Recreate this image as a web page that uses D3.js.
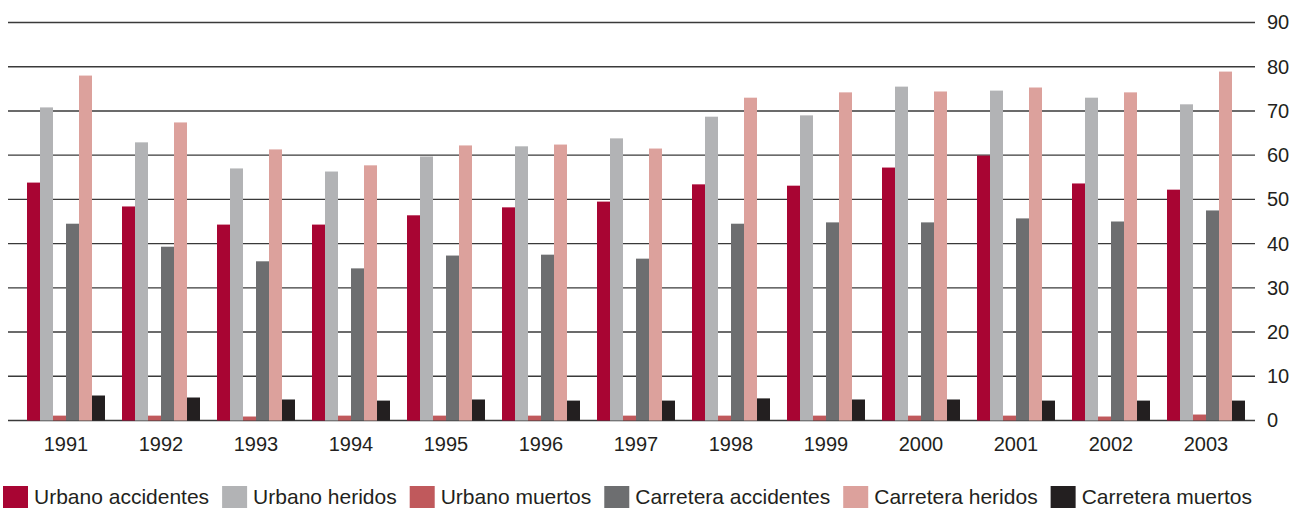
<!DOCTYPE html>
<html>
<head>
<meta charset="utf-8">
<script src="https://cdn.jsdelivr.net/npm/d3@7"></script>
<style>
  body { margin: 0; background: white; }
  svg { display: block; font-family: "Liberation Sans", Arial, sans-serif; }
</style>
</head>
<body>
<svg id="chart" width="1292" height="508"></svg>
<script>
const years = ["1991","1992","1993","1994","1995","1996","1997","1998","1999","2000","2001","2002","2003"];
const seriesNames = ["Urbano accidentes","Urbano heridos","Urbano muertos","Carretera accidentes","Carretera heridos","Carretera muertos"];
const seriesColors = ["#a80533","#b2b3b5","#c0595c","#6d6e70","#dca19c","#231f20"];

const urbanoAccidentes   = [53.8,48.4,44.3,44.3,46.4,48.2,49.5,53.4,53.1,57.2,59.9,53.6,52.2];
const urbanoHeridos      = [70.8,62.9,57.0,56.3,59.7,62.0,63.8,68.7,69.0,75.5,74.6,73.0,71.5];
const urbanoMuertos      = [1.1,1.1,0.9,1.1,1.1,1.1,1.1,1.1,1.1,1.1,1.1,0.9,1.35];
const carreteraAccidentes= [44.5,39.3,36.0,34.4,37.3,37.5,36.6,44.5,44.8,44.8,45.7,45.0,47.5];
const carreteraHeridos   = [78.0,67.4,61.3,57.7,62.2,62.4,61.5,73.0,74.2,74.4,75.3,74.2,78.9];
const carreteraMuertos   = [5.65,5.2,4.75,4.5,4.75,4.5,4.5,5.0,4.75,4.75,4.5,4.5,4.5];

const yTicks = [0,10,20,30,40,50,60,70,80,90];

const series = [urbanoAccidentes, urbanoHeridos, urbanoMuertos, carreteraAccidentes, carreteraHeridos, carreteraMuertos];
const rows = years.map((yr, i) => ({ year: yr, values: series.map((s, k) => ({ key: seriesNames[k], value: s[i] })) }));

const svg = d3.select("#chart");
const gridLeft = 8, gridRight = 1255;

const x0 = d3.scaleBand().domain(years).range([18.5, 1253.5]).paddingInner(17/95).paddingOuter(17/190);
const x1 = d3.scaleBand().domain(seriesNames).range([0, x0.bandwidth()]);
const y = d3.scaleLinear().domain([0, 90]).range([420.5, 22.5]);
const color = d3.scaleOrdinal().domain(seriesNames).range(seriesColors);

// gridlines (behind bars)
svg.append("g")
  .selectAll("line")
  .data(yTicks)
  .join("line")
  .attr("x1", gridLeft)
  .attr("x2", gridRight)
  .attr("y1", d => y(d))
  .attr("y2", d => y(d))
  .attr("stroke", "#3a3a3a")
  .attr("stroke-width", 1.4);

// bars
svg.append("g")
  .selectAll("g")
  .data(rows)
  .join("g")
  .attr("transform", d => `translate(${x0(d.year)},0)`)
  .selectAll("rect")
  .data(d => d.values)
  .join("rect")
  .attr("x", d => x1(d.key))
  .attr("width", x1.bandwidth())
  .attr("y", d => y(d.value))
  .attr("height", d => y(0) - y(d.value))
  .attr("fill", d => color(d.key));

// right axis labels
const yAxis = svg.append("g")
  .attr("transform", `translate(${gridRight},0)`)
  .call(d3.axisRight(y).tickValues(yTicks).tickSize(0).tickPadding(12));
yAxis.select(".domain").remove();
yAxis.selectAll("text")
  .style("font-size", "20px")
  .style("font-family", "Liberation Sans, Arial, sans-serif")
  .attr("fill", "#231f20");

// bottom year labels
const xAxis = svg.append("g")
  .attr("transform", `translate(0,${y(0)})`)
  .call(d3.axisBottom(x0).tickSize(0).tickPadding(16));
xAxis.select(".domain").remove();
xAxis.selectAll("text")
  .style("font-size", "20px")
  .style("font-family", "Liberation Sans, Arial, sans-serif")
  .attr("fill", "#231f20");

// legend
const legend = svg.append("g").attr("transform", "translate(3,486)");
let lx = 0;
seriesNames.forEach((name, i) => {
  const item = legend.append("g").attr("transform", `translate(${lx},0)`);
  item.append("rect").attr("width", 25).attr("height", 22).attr("fill", seriesColors[i]);
  const t = item.append("text")
    .attr("x", 31)
    .attr("y", 18)
    .style("font-size", "21px")
    .attr("fill", "#231f20")
    .text(name);
  lx += 31 + t.node().getComputedTextLength() + 13;
});
</script>
</body>
</html>
